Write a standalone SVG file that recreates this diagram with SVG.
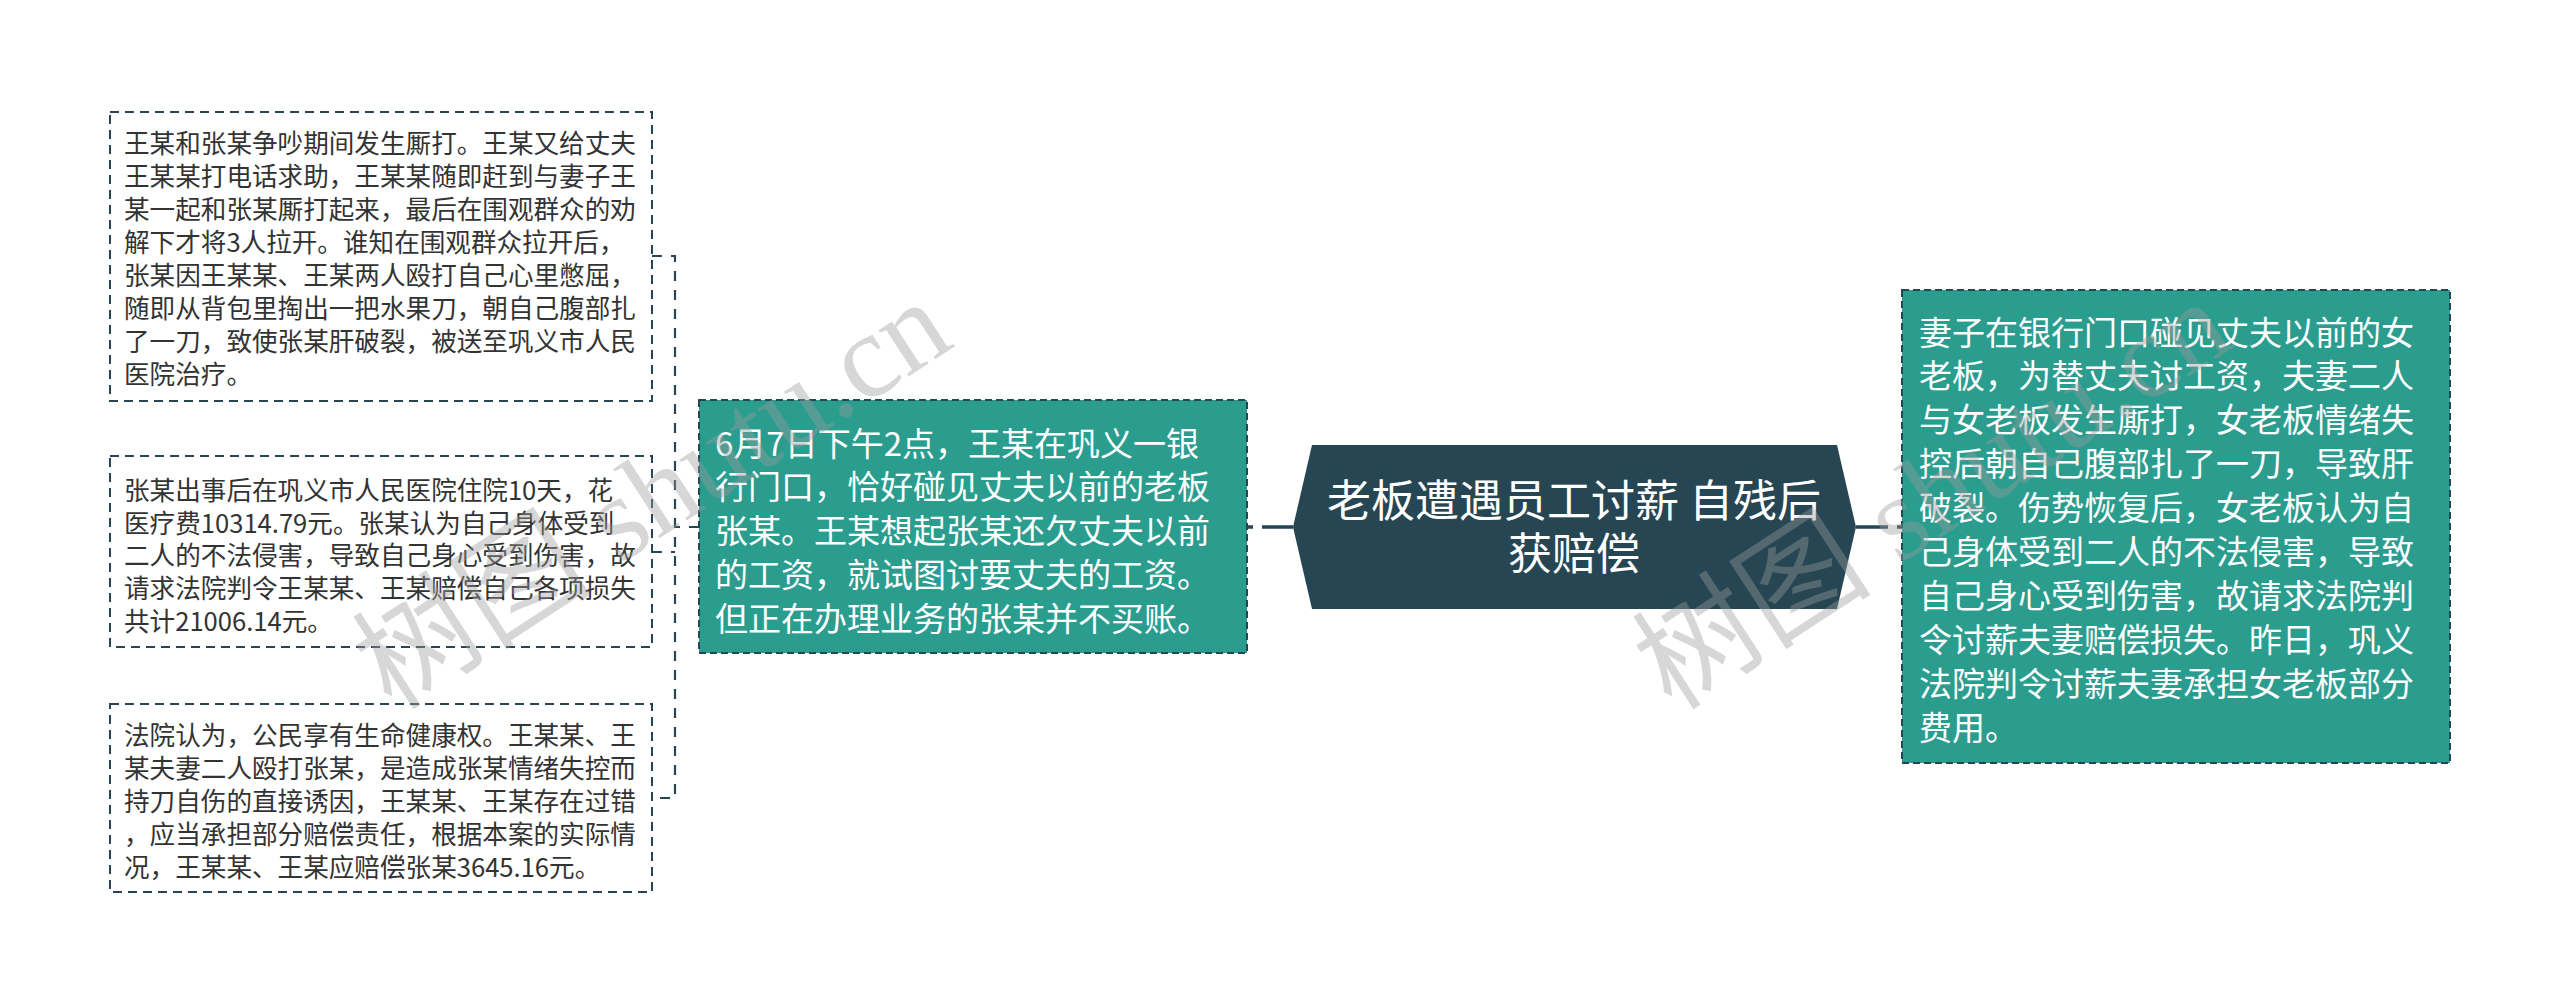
<svg xmlns="http://www.w3.org/2000/svg" width="2560" height="1004" viewBox="0 0 2560 1004">
<style>
.leaf rect{fill:#ffffff;stroke:#264653;stroke-width:2;stroke-dasharray:9 6}
.leaf text{font-family:"Noto Sans CJK SC","Noto Sans",sans-serif;font-size:25.6px;fill:#333333}
.sub rect{fill:#2a9d8f;stroke:#264653;stroke-width:2;stroke-dasharray:7 4}
.sub text{font-family:"Noto Sans CJK SC","Noto Sans",sans-serif;font-size:33px;fill:#ffffff}
.root polygon{fill:#264653}
.root text{font-family:"Noto Sans CJK SC","Noto Sans",sans-serif;font-size:44px;fill:#ffffff;text-anchor:middle}
.c-dash{fill:none;stroke:#264653;stroke-width:2.2;stroke-dasharray:10 9}
.c-solid{fill:none;stroke:#264653;stroke-width:3.5}
.wm{font-family:"Liberation Serif","Noto Sans CJK SC",serif;font-size:120px;fill:#9a9a9a;fill-opacity:0.4}
</style>
<rect width="2560" height="1004" fill="#ffffff"/>
<g id="connectors">
  <path class="c-dash" d="M699,527 H675 M652,256 H675 V798 H652 M652,552 H675"/>
  <path class="c-solid" d="M1293,527 H1247" style="stroke-dasharray:31 9 6 100"/>
  <path class="c-solid" d="M1856,527 H1902" style="stroke-dasharray:32 9 5 100"/>
</g>
<g id="root" class="root">
  <polygon points="1293,527 1312,445 1837,445 1856,527 1837,609 1312,609"/>
  <text x="1574" y="517">老板遭遇员工讨薪 自残后</text>
  <text x="1574" y="570">获赔偿</text>
</g>
<g id="left-main" class="sub">
  <rect x="699" y="400" width="548" height="253"/>
  <text x="715" y="455.5">6月7日下午2点，王某在巩义一银</text>
  <text x="715" y="499.3">行门口，恰好碰见丈夫以前的老板</text>
  <text x="715" y="543">张某。王某想起张某还欠丈夫以前</text>
  <text x="715" y="586.8">的工资，就试图讨要丈夫的工资。</text>
  <text x="715" y="630.5">但正在办理业务的张某并不买账。</text>
</g>
<g id="right-main" class="sub">
  <rect x="1902" y="290" width="548" height="473"/>
  <text x="1919" y="344.5">妻子在银行门口碰见丈夫以前的女</text>
  <text x="1919" y="388.4">老板，为替丈夫讨工资，夫妻二人</text>
  <text x="1919" y="432.3">与女老板发生厮打，女老板情绪失</text>
  <text x="1919" y="476.2">控后朝自己腹部扎了一刀，导致肝</text>
  <text x="1919" y="520.1">破裂。伤势恢复后，女老板认为自</text>
  <text x="1919" y="564">己身体受到二人的不法侵害，导致</text>
  <text x="1919" y="607.9">自己身心受到伤害，故请求法院判</text>
  <text x="1919" y="651.8">令讨薪夫妻赔偿损失。昨日，巩义</text>
  <text x="1919" y="695.7">法院判令讨薪夫妻承担女老板部分</text>
  <text x="1919" y="739.6">费用。</text>
</g>
<g id="leaf-1" class="leaf">
  <rect x="110" y="112" width="542" height="289"/>
  <text x="124" y="153">王某和张某争吵期间发生厮打。王某又给丈夫</text>
  <text x="124" y="186">王某某打电话求助，王某某随即赶到与妻子王</text>
  <text x="124" y="219">某一起和张某厮打起来，最后在围观群众的劝</text>
  <text x="124" y="252">解下才将3人拉开。谁知在围观群众拉开后，</text>
  <text x="124" y="285">张某因王某某、王某两人殴打自己心里憋屈，</text>
  <text x="124" y="318">随即从背包里掏出一把水果刀，朝自己腹部扎</text>
  <text x="124" y="351">了一刀，致使张某肝破裂，被送至巩义市人民</text>
  <text x="124" y="384">医院治疗。</text>
</g>
<g id="leaf-2" class="leaf">
  <rect x="110" y="456" width="542" height="191"/>
  <text x="124" y="500">张某出事后在巩义市人民医院住院10天，花</text>
  <text x="124" y="532.7">医疗费10314.79元。张某认为自己身体受到</text>
  <text x="124" y="565.4">二人的不法侵害，导致自己身心受到伤害，故</text>
  <text x="124" y="598.1">请求法院判令王某某、王某赔偿自己各项损失</text>
  <text x="124" y="630.8">共计21006.14元。</text>
</g>
<g id="leaf-3" class="leaf">
  <rect x="110" y="704" width="542" height="188"/>
  <text x="124" y="745">法院认为，公民享有生命健康权。王某某、王</text>
  <text x="124" y="778">某夫妻二人殴打张某，是造成张某情绪失控而</text>
  <text x="124" y="810.5">持刀自伤的直接诱因，王某某、王某存在过错</text>
  <text x="124" y="843.5">，应当承担部分赔偿责任，根据本案的实际情</text>
  <text x="124" y="876.5">况，王某某、王某应赔偿张某3645.16元。</text>
</g>
<g id="watermark">
  <text class="wm" x="392" y="712" transform="rotate(-33 392 712)">树图 shutu.cn</text>
  <text class="wm" x="1672" y="712" transform="rotate(-33 1672 712)">树图 shutu.cn</text>
</g>
</svg>
